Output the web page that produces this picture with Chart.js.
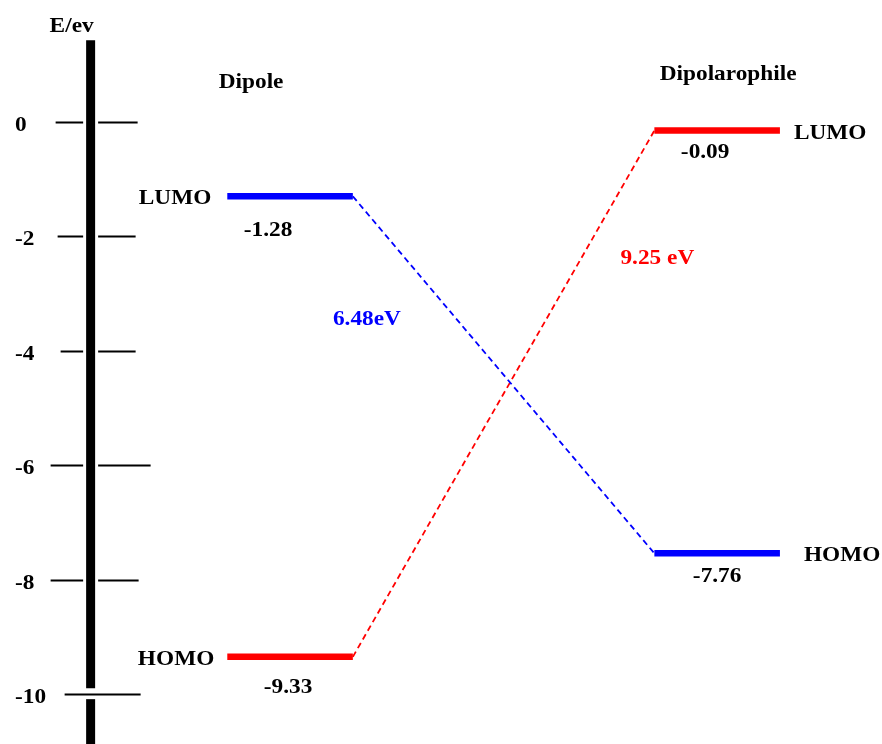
<!DOCTYPE html>
<html>
<head>
<meta charset="utf-8">
<script src="https://cdn.jsdelivr.net/npm/chart.js@4.4.0/dist/chart.umd.min.js"></script>
<style>
  html, body { margin: 0; padding: 0; background: #ffffff; }
  #wrap { width: 882px; height: 744px; position: relative; }
</style>
</head>
<body>
<div id="wrap"><canvas id="diagram"></canvas></div>
<script>
// Frontier orbital energies (eV), as drawn in the diagram
const categories = ['Dipole', 'Dipolarophile'];
const orbitals = ['LUMO', 'HOMO'];
const dipoleEnergy = [-1.30, -9.35];
const dipolarophileEnergy = [-0.15, -7.54];
const dipoleLabels = ['-1.28', '-9.33'];
const dipolarophileLabels = ['-0.09', '-7.76'];
const gapLabels = ['6.48eV', '9.25 eV'];
const yTicks = [0, -2, -4, -6, -8, -10];
const yTickLabels = ['0', '-2', '-4', '-6', '-8', '-10'];
const axisTitle = 'E/ev';

// Layout (column slots along x, half width of a level bar)
const COL = [1, 2];
const HALF = 0.147;
const AXIS_X = 0.533;
const BLUE = '#0000ff';
const RED = '#ff0000';
const FONT = 'bold 22px "Liberation Serif", "Times New Roman", serif';
const STRETCH = 1.06;

const levelColors = [[BLUE, RED], [RED, BLUE]];
const energies = [dipoleEnergy, dipolarophileEnergy];
const valueLabels = [dipoleLabels, dipolarophileLabels];

// Build datasets: four level bars + two dashed connectors
const datasets = [];
for (let c = 0; c < 2; c++) {
    for (let o = 0; o < 2; o++) {
        datasets.push({
            label: categories[c] + ' ' + orbitals[o],
            data: [
                { x: COL[c] - HALF, y: energies[c][o] },
                { x: COL[c] + HALF, y: energies[c][o] }
            ],
            showLine: true,
            borderColor: levelColors[c][o],
            borderWidth: 6.5,
            pointRadius: 0,
            borderCapStyle: 'butt'
        });
    }
}
// dipole LUMO -> dipolarophile HOMO (blue), dipole HOMO -> dipolarophile LUMO (red)
datasets.push({
    label: 'gap1',
    data: [{ x: COL[0] + HALF, y: dipoleEnergy[0] }, { x: COL[1] - HALF, y: dipolarophileEnergy[1] }],
    showLine: true, borderColor: BLUE, borderWidth: 1.8, borderDash: [6, 4], pointRadius: 0
});
datasets.push({
    label: 'gap2',
    data: [{ x: COL[0] + HALF, y: dipoleEnergy[1] }, { x: COL[1] - HALF, y: dipolarophileEnergy[0] }],
    showLine: true, borderColor: RED, borderWidth: 1.8, borderDash: [6, 4], pointRadius: 0
});

function drawText(ctx, text, x, y, align, color) {
    ctx.save();
    ctx.translate(x, y);
    ctx.scale(STRETCH, 1);
    ctx.font = FONT;
    ctx.fillStyle = color || '#000000';
    ctx.textAlign = align;
    ctx.textBaseline = 'alphabetic';
    ctx.fillText(text, 0, 0);
    ctx.restore();
}

// Energy axis with ticks, drawn from the y scale
const energyAxis = {
    id: 'energyAxis',
    beforeDatasetsDraw(chart) {
        const ctx = chart.ctx;
        const xs = chart.scales.x, ys = chart.scales.y;
        const ax = xs.getPixelForValue(AXIS_X);
        const tickLeft = [35, 33, 30, 40, 40, 26];
        const tickRight = [47, 45, 45, 60, 48, 50];
        ctx.save();
        ctx.strokeStyle = '#000000';
        ctx.lineWidth = 2;
        yTicks.forEach((t, i) => {
            const py = Math.round(ys.getPixelForValue(t)) + 0.5;
            ctx.beginPath();
            ctx.moveTo(ax - tickLeft[i], py);
            ctx.lineTo(ax + tickRight[i], py);
            ctx.stroke();
            drawText(ctx, yTickLabels[i], 15, py + 8, 'left');
        });
        // thick axis, broken around -10
        const top = ys.getPixelForValue(1.43);
        const gapTop = ys.getPixelForValue(-9.9);
        const gapBot = ys.getPixelForValue(-10.09);
        const bottom = chart.chartArea.bottom;
        [[top, gapTop], [gapBot, bottom]].forEach(seg => {
            ctx.lineCap = 'butt';
            ctx.strokeStyle = '#ffffff';
            ctx.lineWidth = 15;
            ctx.beginPath(); ctx.moveTo(ax, seg[0]); ctx.lineTo(ax, seg[1]); ctx.stroke();
            ctx.strokeStyle = '#000000';
            ctx.lineWidth = 9;
            ctx.beginPath(); ctx.moveTo(ax, seg[0]); ctx.lineTo(ax, seg[1]); ctx.stroke();
        });
        drawText(ctx, axisTitle, ax - 19, 32, 'center');
        ctx.restore();
    }
};

// Column titles, orbital names, energy values and gap labels
const levelText = {
    id: 'levelText',
    afterDatasetsDraw(chart) {
        const ctx = chart.ctx;
        const xs = chart.scales.x, ys = chart.scales.y;
        const c0 = xs.getPixelForValue(COL[0]);
        const c1 = xs.getPixelForValue(COL[1]);
        drawText(ctx, categories[0], c0 - 39, 88, 'center');
        drawText(ctx, categories[1], c1 + 11, 80, 'center');

        // orbital names: left of dipole bars, right of dipolarophile bars
        const nameGap = [[16, 13], [14, 24]];
        for (let o = 0; o < 2; o++) {
            const y0 = ys.getPixelForValue(dipoleEnergy[o]);
            drawText(ctx, orbitals[o], xs.getPixelForValue(COL[0] - HALF) - nameGap[0][o], y0 + 8, 'right');
            const y1 = ys.getPixelForValue(dipolarophileEnergy[o]);
            drawText(ctx, orbitals[o], xs.getPixelForValue(COL[1] + HALF) + nameGap[1][o], y1 + 8, 'left');
        }

        // energy values under each bar
        const valOffset = [[[-22, 40], [-2, 36]], [[-12, 27], [0, 29]]];
        for (let c = 0; c < 2; c++) {
            const cx = xs.getPixelForValue(COL[c]);
            for (let o = 0; o < 2; o++) {
                const y = ys.getPixelForValue(energies[c][o]);
                drawText(ctx, valueLabels[c][o], cx + valOffset[c][o][0], y + valOffset[c][o][1], 'center');
            }
        }

        // gap labels
        drawText(ctx, gapLabels[0], xs.getPixelForValue(1.18), ys.getPixelForValue(-3.43) + 7, 'center', BLUE);
        drawText(ctx, gapLabels[1], xs.getPixelForValue(1.86), ys.getPixelForValue(-2.36) + 7, 'center', RED);
    }
};

new Chart(document.getElementById('diagram'), {
    type: 'scatter',
    data: { datasets: datasets },
    options: {
        responsive: true,
        maintainAspectRatio: false,
        animation: false,
        layout: { padding: 0 },
        plugins: { legend: { display: false }, tooltip: { enabled: false } },
        scales: {
            x: { type: 'linear', display: false, min: 0.3208, max: 2.386 },
            y: { type: 'linear', display: false, min: -10.874, max: 2.133 }
        }
    },
    plugins: [energyAxis, levelText]
});
</script>
</body>
</html>
